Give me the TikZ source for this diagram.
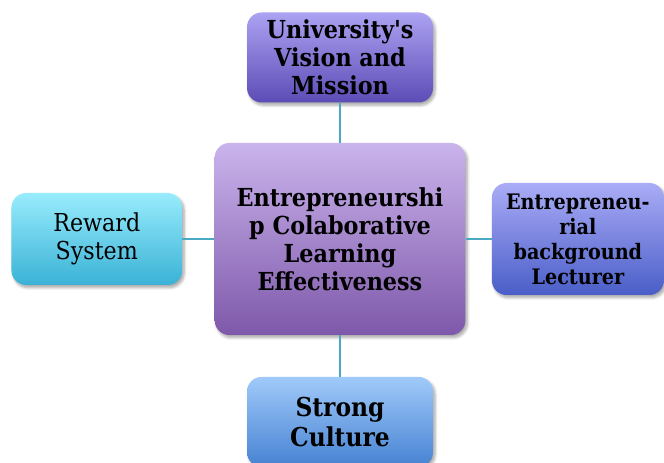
\documentclass[tikz,border=0pt]{standalone}
\usepackage{fontspec}
\setmainfont{DejaVu Serif Condensed}
\usetikzlibrary{shapes,positioning,shadows.blur}
\definecolor{linkteal}{RGB}{75,170,195}
\definecolor{visiontop}{RGB}{172,162,242}
\definecolor{visionbot}{RGB}{92,76,182}
\definecolor{effecttop}{RGB}{202,180,236}
\definecolor{effectbot}{RGB}{126,88,170}
\definecolor{rewardtop}{RGB}{152,236,252}
\definecolor{rewardbot}{RGB}{58,178,214}
\definecolor{lecturertop}{RGB}{170,172,246}
\definecolor{lecturerbot}{RGB}{74,94,200}
\definecolor{culturetop}{RGB}{160,202,250}
\definecolor{culturebot}{RGB}{70,130,210}
\tikzstyle{box} = [rectangle, rounded corners=11pt, text centered, align=center, inner sep=2pt, blur shadow={shadow xshift=1.5pt, shadow yshift=-2pt, shadow blur steps=6, shadow opacity=35}]

\begin{document}
\begin{tikzpicture}[x=0.75pt,y=-0.75pt,
  link/.style={draw=linkteal, line width=1.5pt}]
  \useasboundingbox (0,0) rectangle (664,463);
  % center node first, the four factors around it
  \node (Effect) [box, minimum width=188pt, minimum height=144pt, top color=effecttop, bottom color=effectbot,
    font=\fontsize{18.6}{21}\selectfont\bfseries] at (340,239)
    {Entrepreneurshi\\p Colaborative\\Learning\\Effectiveness};
  \node (Vision) [box, above=30pt of Effect, minimum width=139.5pt, minimum height=67.5pt, top color=visiontop, bottom color=visionbot,
    font=\fontsize{18.6}{21}\selectfont\bfseries] {University\textquotesingle s\\Vision and\\Mission};
  \node (Culture) [box, below=31pt of Effect, minimum width=139.5pt, minimum height=67.5pt, top color=culturetop, bottom color=culturebot,
    font=\fontsize{19.5}{22.5}\selectfont\bfseries] {Strong\\Culture};
  \node (Reward) [box, left=24pt of Effect, minimum width=128pt, minimum height=69pt, top color=rewardtop, bottom color=rewardbot,
    font=\fontsize{18.5}{21}\selectfont] {Reward\\System};
  \node (Lecturer) [box, right=19.5pt of Effect, minimum width=129pt, minimum height=84pt, top color=lecturertop, bottom color=lecturerbot,
    font=\fontsize{16}{18.75}\selectfont\bfseries] {Entrepreneu-\\rial\\background\\Lecturer};

  \draw[link] (Vision) -- (Effect);
  \draw[link] (Effect) -- (Culture);
  \draw[link] (Reward) -- (Effect);
  \draw[link] (Effect) -- (Lecturer);
\end{tikzpicture}
\end{document}
